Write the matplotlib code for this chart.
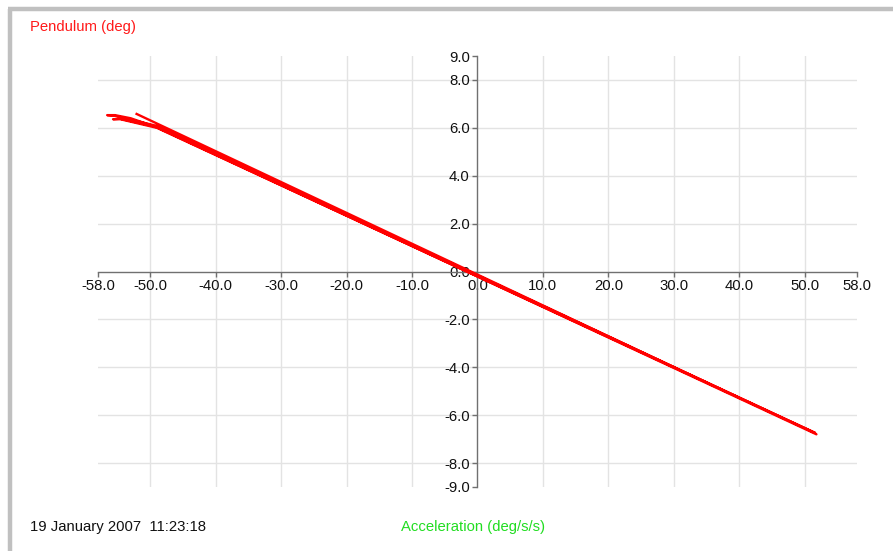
""" Pendulum angle against acceleration, drawn like a data-logger display """
import matplotlib
matplotlib.use('Agg')
import matplotlib.pyplot as plt
from matplotlib.lines import Line2D

plt.rcParams['font.family'] = ['Liberation Sans', 'DejaVu Sans']

# trace (acceleration deg/s/s, pendulum deg)
acceleration = [-52.1, 51.8, -49.0, -53.0, -55.4, -56.6, -55.4, -49.0, 51.6, -49.0, -54.6, -55.7, -54.6, -49.0]
pendulum = [6.58, -6.80, 6.02, 6.40, 6.53, 6.53, 6.50, 6.08, -6.74, 6.00, 6.36, 6.36, 6.38, 6.04]

x_ticks = [-58, -50, -40, -30, -20, -10, 0, 10, 20, 30, 40, 50, 58]
y_ticks = [-9, -8, -6, -4, -2, 0, 2, 4, 6, 8, 9]
x_grid = [-50, -40, -30, -20, -10, 10, 20, 30, 40, 50]
y_grid = [-8, -6, -4, -2, 2, 4, 6, 8]

fig = plt.figure(figsize=(8.93, 5.51), dpi=100)
ax = fig.add_axes([98 / 893, 1 - 487 / 551, 759 / 893, 431 / 551])

# light grid
for gx in x_grid:
    ax.axvline(gx, color='#e3e3e3', lw=1.0, zorder=0)
for gy in y_grid:
    ax.axhline(gy, color='#e3e3e3', lw=1.0, zorder=0)

ax.plot(acceleration, pendulum, color='red', lw=1.7, solid_joinstyle='round', zorder=3)

ax.set_xlim(-58, 58)
ax.set_ylim(-9, 9)

# axes crossing at zero
for side in ['top', 'right']:
    ax.spines[side].set_visible(False)
ax.spines['left'].set_position(('data', 0))
ax.spines['bottom'].set_position(('data', 0))
for side in ['left', 'bottom']:
    ax.spines[side].set_color('#707070')
    ax.spines[side].set_linewidth(1.0)

ax.set_xticks(x_ticks)
ax.set_xticklabels(['%.1f' % v for v in x_ticks])
ax.set_yticks(y_ticks)
ax.set_yticklabels(['%.1f' % v for v in y_ticks])
ax.tick_params(axis='both', direction='out', length=3.5, width=1.0, color='#707070',
               labelsize=10.7, labelcolor='#111111', pad=2)

ax.patch.set_alpha(0)

# grey frame of the display window
fig.add_artist(Line2D([10 / 893, 10 / 893], [0, 1 - 9 / 551], transform=fig.transFigure,
                      color='#c0c0c0', lw=3.2, solid_capstyle='butt'))
fig.add_artist(Line2D([10 / 893 - 0.002, 1], [1 - 9 / 551, 1 - 9 / 551], transform=fig.transFigure,
                      color='#c0c0c0', lw=3.2, solid_capstyle='butt'))

fig.text(30 / 893, 1 - 27 / 551, 'Pendulum (deg)', color='#ff1a1a', fontsize=10.7, va='center', ha='left')
fig.text(30 / 893, 1 - 527 / 551, '19 January 2007  11:23:18', color='#111111', fontsize=10.7, va='center', ha='left')
fig.text(401 / 893, 1 - 527 / 551, 'Acceleration (deg/s/s)', color='#22dd22', fontsize=10.7, va='center', ha='left')

plt.savefig('out.png', dpi=100)
